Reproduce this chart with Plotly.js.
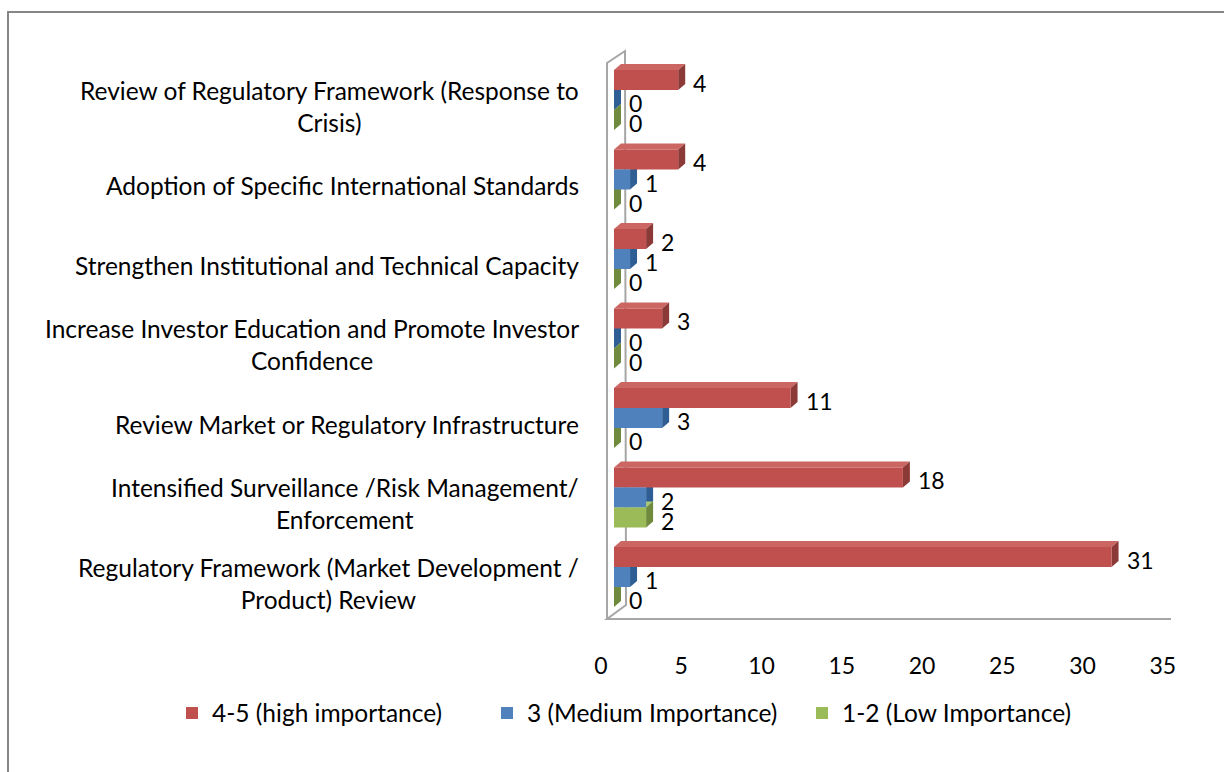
<!DOCTYPE html>
<html>
<head>
<meta charset="utf-8">
<script src="https://cdn.plot.ly/plotly-3.0.1.min.js"></script>
<style>html,body{margin:0;padding:0;background:#fff;}#chart{width:1224px;height:772px;}</style>
</head>
<body>
<div id="chart"></div>
<script>
// ---- data (top to bottom as shown) ----
const categories = [
  "Review of Regulatory Framework (Response to<br>Crisis)",
  "Adoption of Specific International Standards",
  "Strengthen Institutional and Technical Capacity",
  "Increase Investor Education and Promote Investor<br>Confidence",
  "Review Market or Regulatory Infrastructure",
  "Intensified Surveillance /Risk Management/<br>Enforcement",
  "Regulatory Framework (Market Development /<br>Product) Review"
];
const seriesNames = ["4-5 (high importance)", "3 (Medium Importance)", "1-2 (Low Importance)"];
const highImportance = [4, 4, 2, 3, 11, 18, 31];
const mediumImportance = [0, 1, 1, 0, 3, 2, 1];
const lowImportance = [0, 0, 0, 0, 0, 2, 0];
const xTickValues = [0, 5, 10, 15, 20, 25, 30, 35];

// ---- styling ----
const W = 1224, H = 772;
const FONT = "Lato, 'Open Sans', sans-serif";
const frontColors = ["#c0504d", "#4f81bd", "#9bbb59"];
const topColors   = ["#cc6663", "#6a95ca", "#adc975"];
const sideColors  = ["#8c3a38", "#2f5e94", "#6f8a3c"];
const values = [highImportance, mediumImportance, lowImportance];

const xDomainPx = [614, 614 + 35 * 16.05];
const yDomainPx = [60.25, 616.75];
const bargap = 0.245;
const px = x => x / W;
const py = y => 1 - y / H;

const idx = categories.map((_, i) => i);
const nS = values.length;
const w = (1 - bargap) / nS;
const pxPerX = (xDomainPx[1] - xDomainPx[0]) / 35;
const pxPerY = (yDomainPx[1] - yDomainPx[0]) / categories.length;
const dx = 7 / pxPerX;
const dy = 6 / pxPerY;

const traces = values.map((vals, s) => ({
  type: "bar",
  orientation: "h",
  name: seriesNames[s],
  x: vals,
  y: idx,
  marker: {color: frontColors[s], line: {width: 0}},
  hoverinfo: "x"
}));

const shapes = [];
const annotations = [];
values.forEach((vals, s) => {
  vals.forEach((v, i) => {
    const c = i + (s - (nS - 1) / 2) * w;
    const t = c - w / 2, b = c + w / 2;
    // top face
    shapes.push({type: "path", xref: "x", yref: "y", layer: "below",
      path: `M0,${t} L${v},${t} L${v + dx},${t - dy} L${dx},${t - dy} Z`,
      fillcolor: topColors[s], line: {width: 0}});
    // side face
    shapes.push({type: "path", xref: "x", yref: "y", layer: "below",
      path: `M${v},${t} L${v + dx},${t - dy} L${v + dx},${b - dy} L${v},${b} Z`,
      fillcolor: sideColors[s], line: {width: 0}});
    // data label
    annotations.push({xref: "x", yref: "y", x: v, y: c, text: String(v),
      showarrow: false, xanchor: "left", yanchor: "middle", xshift: 13, yshift: -3,
      font: {family: FONT, size: 23, color: "#000"}});
  });
});

// category labels
categories.forEach((cat, i) => {
  annotations.push({xref: "paper", yref: "y", x: px(581), y: i, text: cat,
    showarrow: false, xanchor: "right", yanchor: "middle", align: "center", yshift: -6,
    font: {family: FONT, size: 24.5, color: "#000"}});
});

// chart frame (outer border)
shapes.push({type: "rect", xref: "paper", yref: "paper",
  x0: px(8), x1: px(W + 20), y0: py(H + 20), y1: py(12),
  line: {color: "#868686", width: 2}, fillcolor: "rgba(0,0,0,0)", layer: "below"});
// 3D wall and floor
shapes.push({type: "path", xref: "paper", yref: "paper", layer: "below",
  path: `M${px(607)},${py(619)} L${px(607)},${py(63)} L${px(625)},${py(51)} L${px(626)},${py(605)} L${px(607)},${py(619)} L${px(1171)},${py(619)}`,
  fillcolor: "rgba(0,0,0,0)", line: {color: "#a6a6a6", width: 2}});

const layout = {
  width: W, height: H,
  margin: {l: 0, r: 0, t: 0, b: 0, pad: 0},
  paper_bgcolor: "#ffffff",
  plot_bgcolor: "rgba(0,0,0,0)",
  barmode: "group",
  bargap: bargap,
  bargroupgap: 0,
  showlegend: true,
  legend: {orientation: "h", x: px(172), xanchor: "left", y: py(713), yanchor: "middle",
    entrywidth: 270, entrywidthmode: "pixels",
    font: {family: FONT, size: 24.5, color: "#000"}, traceorder: "normal"},
  xaxis: {domain: [px(xDomainPx[0]), px(xDomainPx[1])], range: [0, 35],
    tickvals: xTickValues, ticktext: xTickValues.map(String),
    showgrid: false, zeroline: false, showline: false, ticks: "",
    ticklabelshift: -13, ticklabelstandoff: 33,
    tickfont: {family: FONT, size: 23, color: "#000"}, fixedrange: true},
  yaxis: {domain: [py(yDomainPx[1]), py(yDomainPx[0])], range: [categories.length - 0.5, -0.5],
    showticklabels: false, showgrid: false, zeroline: false, showline: false, ticks: "", fixedrange: true},
  shapes: shapes,
  annotations: annotations,
  font: {family: FONT}
};

Plotly.newPlot("chart", traces, layout, {displayModeBar: false, staticPlot: true});
</script>
</body>
</html>
